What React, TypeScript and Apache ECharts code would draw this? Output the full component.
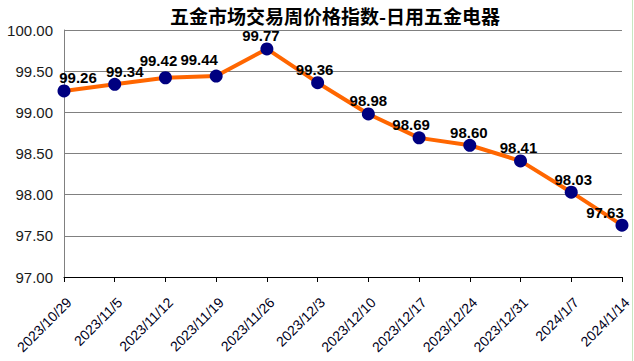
import React, { useEffect, useRef } from "react";
import * as echarts from "echarts";

const categories = [
  "2023/10/29", "2023/11/5", "2023/11/12", "2023/11/19", "2023/11/26", "2023/12/3",
  "2023/12/10", "2023/12/17", "2023/12/24", "2023/12/31", "2024/1/7", "2024/1/14",
];
const values = [99.26, 99.34, 99.42, 99.44, 99.77, 99.36, 98.98, 98.69, 98.6, 98.41, 98.03, 97.63];
const title = "五金市场交易周价格指数-日用五金电器";
const yMin = 97;
const yMax = 100;
const yStep = 0.5;

// nudges of the value labels (style only)
const labelShiftX = [14, 10, -7, -17, -6, -3, 0, -8, -1, -2, 2, -17];
const labelShiftY = [0, 0, -4, -4, 0, 0, 0, 0, 0, 0, 0, 0];

export default function App() {
  const ref = useRef<HTMLDivElement>(null);
  useEffect(() => {
    if (!ref.current) return;
    const chart = echarts.init(ref.current, null, { renderer: "svg" });
    const data = values.map((v, i) => ({
      value: v,
      label: { offset: [labelShiftX[i], labelShiftY[i]] },
    }));
    chart.setOption({
      animation: false,
      backgroundColor: "#ffffff",
      title: {
        text: title,
        left: 330,
        textAlign: "center",
        top: 1,
        textStyle: {
          fontFamily: "Noto Sans CJK SC",
          fontSize: 19,
          fontWeight: "bold",
          color: "#000000",
        },
      },
      grid: { left: 64, right: 8, top: 30, bottom: 84 },
      xAxis: {
        type: "category",
        data: categories,
        boundaryGap: false,
        axisLine: { lineStyle: { color: "#000000", width: 1 } },
        axisTick: { show: true, length: 5, lineStyle: { color: "#000000" } },
        axisLabel: {
          rotate: 45,
          interval: 0,
          margin: 18,
          verticalAlign: "top",
          fontFamily: "Liberation Sans, Arial",
          fontSize: 14,
          color: "#000020",
        },
        splitLine: { show: false },
      },
      yAxis: {
        type: "value",
        min: yMin,
        max: yMax,
        interval: yStep,
        axisLine: { show: true, lineStyle: { color: "#808080" } },
        axisTick: { show: false },
        axisLabel: {
          margin: 11,
          fontFamily: "Liberation Sans, Arial",
          fontSize: 15,
          color: "#1a1a1a",
          formatter: (v: number) => v.toFixed(2),
        },
        splitLine: { show: true, lineStyle: { color: "#808080", width: 1 } },
      },
      series: [
        {
          type: "line",
          data,
          lineStyle: { color: "#FF6600", width: 4 },
          itemStyle: { color: "#000080" },
          symbol: "circle",
          symbolSize: 13,
          label: {
            show: true,
            position: "top",
            distance: -1,
            fontFamily: "Liberation Sans, Arial",
            fontSize: 15,
            fontWeight: "bold",
            color: "#000000",
            formatter: (p: any) => Number(p.value).toFixed(2),
          },
        },
      ],
      graphic: [
        {
          type: "line",
          shape: { x1: 632.5, y1: 0, x2: 632.5, y2: 361 },
          style: { stroke: "#c8e6c0", lineWidth: 1 },
        },
      ],
    });
    return () => chart.dispose();
  }, []);
  return (
    <div
      ref={ref}
      style={{ position: "fixed", left: 0, top: 0, width: 634, height: 361 }}
    />
  );
}
